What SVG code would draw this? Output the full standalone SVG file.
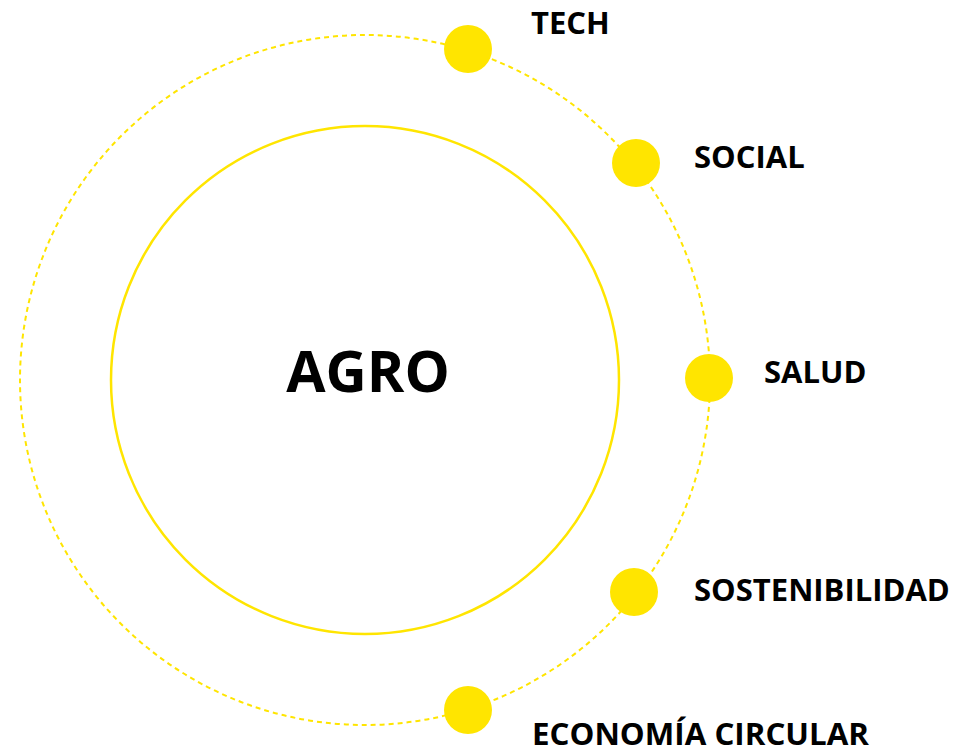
<svg xmlns="http://www.w3.org/2000/svg" width="961" height="753" viewBox="0 0 961 753">
<style>
.lbl{font-family:"Open Sans","Liberation Sans",sans-serif;font-weight:bold;font-size:31px;fill:#000}
.dot{fill:#FFE500}
</style>
<rect width="961" height="753" fill="#fff"/>
<g id="connectors">
<circle cx="365" cy="380" r="345" fill="none" stroke="#FFE500" stroke-width="2" stroke-dasharray="5 4"/>
</g>
<g id="agro">
<circle cx="365" cy="380" r="254" fill="none" stroke="#FFE500" stroke-width="2.5"/>
<text x="368" y="392" text-anchor="middle" font-family="Open Sans, Liberation Sans, sans-serif" font-weight="bold" font-size="57">AGRO</text>
</g>
<g id="tech"><circle class="dot" cx="468" cy="49" r="24"/><text class="lbl" x="531" y="34">TECH</text></g>
<g id="social"><circle class="dot" cx="636" cy="163" r="24"/><text class="lbl" x="694" y="168">SOCIAL</text></g>
<g id="salud"><circle class="dot" cx="709" cy="378" r="24"/><text class="lbl" x="764" y="383">SALUD</text></g>
<g id="sostenibilidad"><circle class="dot" cx="634" cy="592" r="24"/><text class="lbl" x="694" y="601">SOSTENIBILIDAD</text></g>
<g id="economia"><circle class="dot" cx="468" cy="710" r="24"/><text class="lbl" x="532" y="745" textLength="337" lengthAdjust="spacingAndGlyphs">ECONOMÍA CIRCULAR</text></g>
</svg>
